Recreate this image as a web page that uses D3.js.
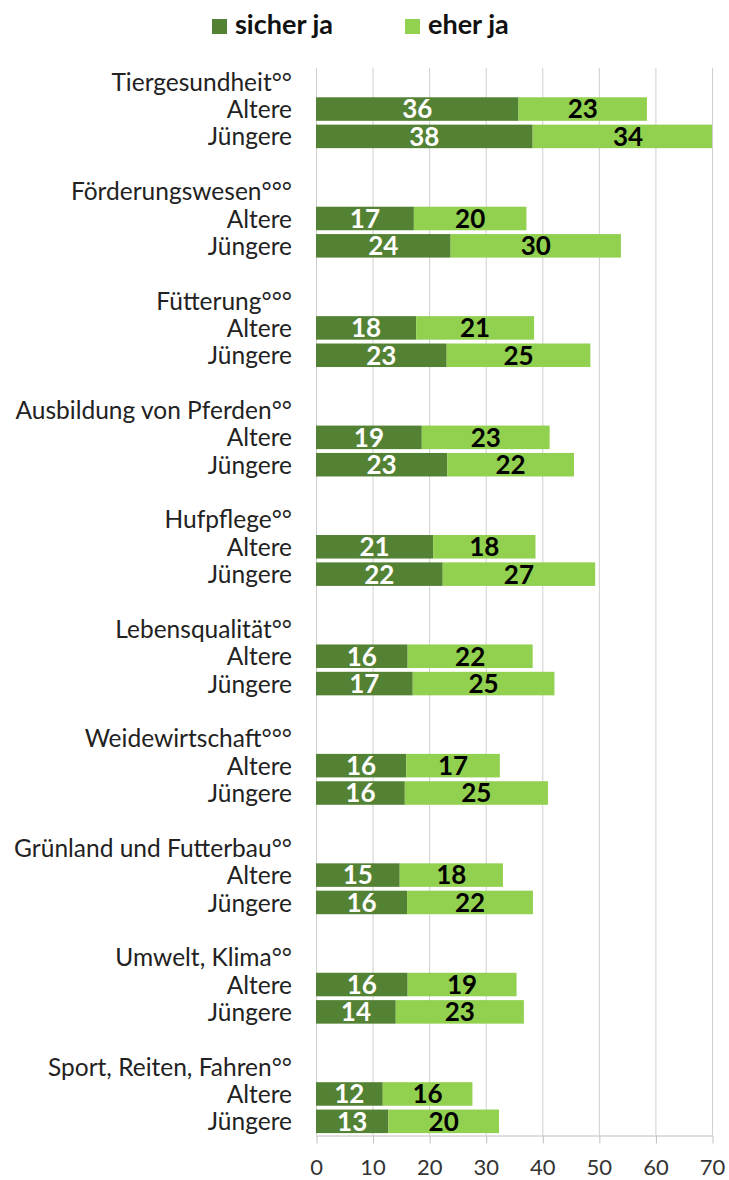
<!DOCTYPE html>
<html>
<head>
<meta charset="utf-8">
<script src="https://cdn.jsdelivr.net/npm/d3@7"></script>
<style>
  body { margin: 0; background: #fff; }
  text { font-family: Lato, "Noto Sans", sans-serif; }
</style>
</head>
<body>
<div id="chart"></div>
<script>
// categories and groups
var categories = ["Tiergesundheit°°", "Förderungswesen°°°", "Fütterung°°°", "Ausbildung von Pferden°°",
  "Hufpflege°°", "Lebensqualität°°", "Weidewirtschaft°°°", "Grünland und Futterbau°°",
  "Umwelt, Klima°°", "Sport, Reiten, Fahren°°"];
var groups = ["Altere", "Jüngere"];
var seriesNames = ["sicher ja", "eher ja"];

// values (percent)
var sicherAltere   = [35.8, 17.3, 17.7, 18.7, 20.7, 16.2, 15.95, 14.8, 16.2, 11.8];
var eherAltere     = [22.7, 19.9, 20.85, 22.6, 18.1, 22.1, 16.55, 18.25, 19.25, 15.85];
var sicherJuengere = [38.3, 23.8, 23.1, 23.2, 22.4, 17.1, 15.7, 16.1, 14.1, 12.8];
var eherJuengere   = [33.7, 30.1, 25.4, 22.4, 26.95, 25.05, 25.3, 22.25, 22.65, 19.55];

var xTicks = [0, 10, 20, 30, 40, 50, 60, 70];

var svgWidth = 729;
var svgHeight = 1180;
var colors = ["#548235", "#92d050"];

var svg = d3.select("#chart")
    .append("svg")
    .attr("width", svgWidth)
    .attr("height", svgHeight);

// build rows: header, Altere, Jüngere, spacer (no spacer after last)
var rows = [];
categories.forEach(function(c, i) {
    rows.push({key: "h" + i, label: c, type: "head"});
    rows.push({key: "a" + i, label: groups[0], type: "bar", vals: [sicherAltere[i], eherAltere[i]]});
    rows.push({key: "j" + i, label: groups[1], type: "bar", vals: [sicherJuengere[i], eherJuengere[i]]});
    if (i < categories.length - 1) rows.push({key: "s" + i, label: "", type: "gap"});
});

var x = d3.scaleLinear()
    .domain([0, 70])
    .range([316, 712])
    .clamp(true);
var xFree = x.copy().clamp(false);

var y = d3.scaleBand()
    .domain(rows.map(d => d.key))
    .range([68, 1135])
    .paddingInner(0.14)
    .paddingOuter(0.07);

// gridlines
svg.append("g")
    .selectAll("line")
    .data(xTicks)
    .enter()
    .append("line")
    .attr("x1", d => x(d) + 0.5)
    .attr("x2", d => x(d) + 0.5)
    .attr("y1", 68)
    .attr("y2", 1135)
    .attr("stroke", "#cfcfcf")
    .attr("stroke-width", 1);

// x axis
var axis = svg.append("g")
    .attr("transform", "translate(0,1135.5)")
    .call(d3.axisBottom(x).tickValues(xTicks).tickSize(8).tickSizeOuter(0).tickPadding(16));
axis.select(".domain").attr("stroke", "#bfbfbf");
axis.selectAll(".tick line").attr("stroke", "#bfbfbf").attr("transform", "translate(0.5,0)");
axis.selectAll(".tick text")
    .attr("font-size", "22px")
    .attr("font-family", "Lato, sans-serif")
    .attr("fill", "#333");

// row labels
svg.append("g")
    .selectAll("text")
    .data(rows.filter(d => d.type !== "gap"))
    .enter()
    .append("text")
    .attr("x", 292)
    .attr("y", d => y(d.key) + y.bandwidth() / 2)
    .attr("dy", "0.37em")
    .attr("text-anchor", "end")
    .attr("font-size", "24.5px")
    .attr("fill", "#222")
    .text(d => d.label);

// stacked segments
var segs = [];
rows.filter(d => d.type === "bar").forEach(function(r) {
    var x0 = 0;
    r.vals.forEach(function(v, k) {
        segs.push({key: r.key, s: k, x0: x0, x1: x0 + v, v: v});
        x0 += v;
    });
});

svg.append("g")
    .selectAll("rect")
    .data(segs)
    .enter()
    .append("rect")
    .attr("x", d => x(d.x0))
    .attr("y", d => y(d.key))
    .attr("width", d => x(d.x1) - x(d.x0))
    .attr("height", y.bandwidth())
    .attr("fill", d => colors[d.s]);

svg.append("g")
    .selectAll("text")
    .data(segs)
    .enter()
    .append("text")
    .attr("x", d => (xFree(d.x0) + xFree(d.x1)) / 2)
    .attr("y", d => y(d.key) + y.bandwidth() / 2)
    .attr("dy", "0.36em")
    .attr("text-anchor", "middle")
    .attr("font-size", "26px")
    .attr("font-weight", "bold")
    .attr("fill", d => d.s === 0 ? "#fff" : "#000")
    .text(d => Math.round(d.v));

// legend
var legendX = [212, 405];
var legend = svg.append("g")
    .selectAll("g")
    .data(seriesNames)
    .enter()
    .append("g")
    .attr("transform", (d, i) => `translate(${legendX[i]}, 19)`);

legend.append("rect")
    .attr("width", 15)
    .attr("height", 15)
    .attr("fill", (d, i) => colors[i]);

legend.append("text")
    .attr("x", 23)
    .attr("y", 15)
    .attr("font-size", "27px")
    .attr("font-weight", "bold")
    .attr("fill", "#111")
    .text(d => d);
</script>
</body>
</html>
